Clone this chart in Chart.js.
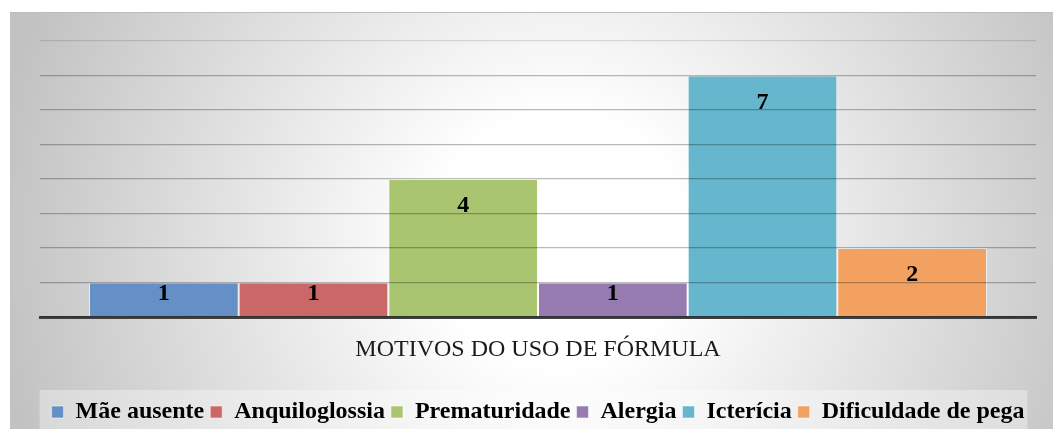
<!DOCTYPE html>
<html lang="pt">
<head>
    <meta charset="UTF-8">
    <title>Motivos do uso de fórmula</title>
    <script src="https://cdn.jsdelivr.net/npm/chart.js"></script>
    <style>
        html, body {
            margin: 0;
            padding: 0;
            background: #ffffff;
        }
        #motivosChart {
            display: block;
        }
    </style>
</head>
<body>
    <canvas id="motivosChart" width="1053" height="429"></canvas>

    <script>
        // dados do gráfico
        const categories = ['MOTIVOS DO USO DE FÓRMULA'];
        const seriesNames = ['Mãe ausente', 'Anquiloglossia', 'Prematuridade', 'Alergia', 'Icterícia', 'Dificuldade de pega'];
        const seriesValues = [1, 1, 4, 1, 7, 2];
        const seriesColors = ['#6590c5', '#c96866', '#a9c56f', '#967bb1', '#66b6cd', '#f2a160'];
        const yMax = 8;
        const yStep = 1;

        const serif = "'Liberation Serif', 'Times New Roman', serif";

        // fundo cinza com gradiente radial + faixa clara da legenda
        const backdrop = {
            id: 'backdrop',
            beforeDraw(chart) {
                const ctx = chart.ctx;
                const w = chart.width, h = chart.height;
                ctx.save();
                ctx.fillStyle = '#ffffff';
                ctx.fillRect(0, 0, w, h);

                const g = ctx.createRadialGradient(560, 240, 0, 560, 240, 570);
                g.addColorStop(0, '#ffffff');
                g.addColorStop(0.22, '#ffffff');
                g.addColorStop(1, '#c2c2c2');
                ctx.fillStyle = g;
                ctx.fillRect(10, 12, w - 10, h - 12);

                ctx.strokeStyle = '#bcbcbc';
                ctx.lineWidth = 1;
                ctx.beginPath();
                ctx.moveTo(10, 12.5);
                ctx.lineTo(w, 12.5);
                ctx.stroke();

                const boxes = chart.legend && chart.legend.legendHitBoxes;
                if (boxes && boxes.length) {
                    const first = boxes[0];
                    const last = boxes[boxes.length - 1];
                    ctx.fillStyle = 'rgba(255, 255, 255, 0.35)';
                    ctx.fillRect(first.left - 12, 390, last.left + last.width - first.left + 15, h);
                }
                ctx.restore();
            }
        };

        // rótulos de valor dentro do topo de cada barra
        const valueLabels = {
            id: 'valueLabels',
            afterDraw(chart) {
                const ctx = chart.ctx;
                ctx.save();
                ctx.font = 'bold 24px ' + serif;
                ctx.fillStyle = '#000000';
                ctx.textAlign = 'center';
                ctx.textBaseline = 'middle';
                chart.data.datasets.forEach((ds, i) => {
                    const meta = chart.getDatasetMeta(i);
                    meta.data.forEach((bar, j) => {
                        const hgt = bar.base - bar.y;
                        const y = bar.y + Math.min(27, hgt - 23);
                        ctx.fillText(String(ds.data[j]), bar.x, y);
                    });
                });
                ctx.restore();
            }
        };

        const datasets = seriesNames.map((name, i) => ({
            label: name,
            data: [seriesValues[i]],
            backgroundColor: seriesColors[i],
            borderColor: 'rgba(255, 255, 255, 0.55)',
            borderWidth: 1,
            categoryPercentage: 0.9016,
            barPercentage: 1.0
        }));

        new Chart(document.getElementById('motivosChart'), {
            type: 'bar',
            data: { labels: categories, datasets: datasets },
            plugins: [backdrop, valueLabels],
            options: {
                responsive: false,
                animation: false,
                layout: { padding: { left: 40, right: 17, top: 41, bottom: -5 } },
                plugins: {
                    tooltip: { enabled: false },
                    legend: {
                        position: 'bottom',
                        labels: {
                            boxWidth: 12,
                            boxHeight: 12,
                            padding: 6,
                            color: '#000000',
                            font: { family: serif, size: 24, weight: 'bold' }
                        }
                    }
                },
                scales: {
                    x: {
                        grid: { display: false, drawTicks: false },
                        border: { display: true, color: '#404040', width: 3 },
                        ticks: {
                            padding: 18,
                            color: '#1a1a1a',
                            font: { family: serif, size: 24 }
                        },
                        afterFit(scale) { scale.height = 77; }
                    },
                    y: {
                        min: 0,
                        max: yMax,
                        ticks: { display: false, stepSize: yStep },
                        border: { display: false },
                        grid: {
                            z: 1,
                            drawTicks: false,
                            lineWidth: 1.3,
                            color: (c) => c.tick && c.tick.value === yMax ? 'rgba(0, 0, 0, 0.12)' : 'rgba(0, 0, 0, 0.27)'
                        },
                        afterFit(scale) { scale.width = 0; }
                    }
                }
            }
        });
    </script>
</body>
</html>
